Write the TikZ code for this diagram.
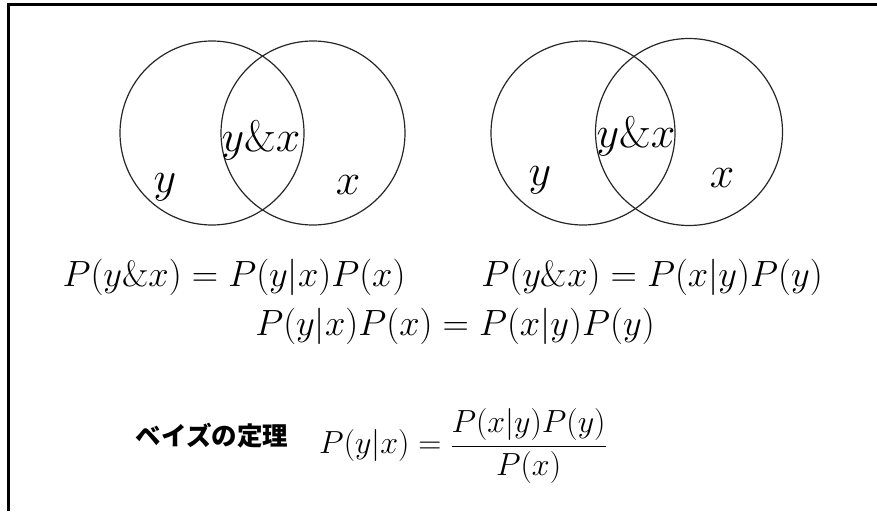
\RequirePackage{fix-cm}
\documentclass[tikz,border=0pt]{standalone}
\usepackage{fontspec}
\newfontfamily\jpfont{Noto Sans CJK JP}
\begin{document}
\begin{tikzpicture}[x=1pt,y=-1pt,
 venn/.style={draw=black!85,line width=1.2pt,circle,minimum size=184pt,inner sep=0pt},
 setlbl/.style={inner sep=0pt,font=\fontsize{44}{50}\selectfont},
 eqn/.style={inner sep=0pt,font=\fontsize{36.5}{42}\selectfont},
 bayes/.style={inner sep=0pt,font=\fontsize{32}{38}\selectfont}]
\useasboundingbox (0,0) rectangle (877,511);
\draw[line width=3pt] (8,511) -- (8,5) -- (877,5);
\node[venn] (yA) at (212,133) {};
\node[venn] (xA) at (313,133) {};
\node[venn] (yB) at (583,133) {};
\node[venn,minimum size=187pt] (xB) at (689,132) {};
\node[setlbl] (yxA) at (261,140) {$y\&x$};
\node[setlbl] (ylA) at (165,187) {$y$};
\node[setlbl] (xlA) at (348,185) {$x$};
\node[setlbl] (yxB) at (636,136) {$y\&x$};
\node[setlbl] (ylB) at (540,180) {$y$};
\node[setlbl] (xlB) at (722,178) {$x$};
\node[eqn] (eqA) at (234,277) {$P(y\&x)=P(y|x)P(x)$};
\node[eqn] (eqB) at (652,277) {$P(y\&x)=P(x|y)P(y)$};
\node[eqn] (eqC) at (455,326) {$P(y|x)P(x)=P(x|y)P(y)$};
\node[inner sep=0pt,font=\jpfont\bfseries\fontsize{25.5}{30}\selectfont] (name) at (212,436) {ベイズの定理};
\node[bayes] (rule) at (463,446) {$\displaystyle P(y|x)=\frac{P(x|y)P(y)}{P(x)}$};
\end{tikzpicture}
\end{document}
